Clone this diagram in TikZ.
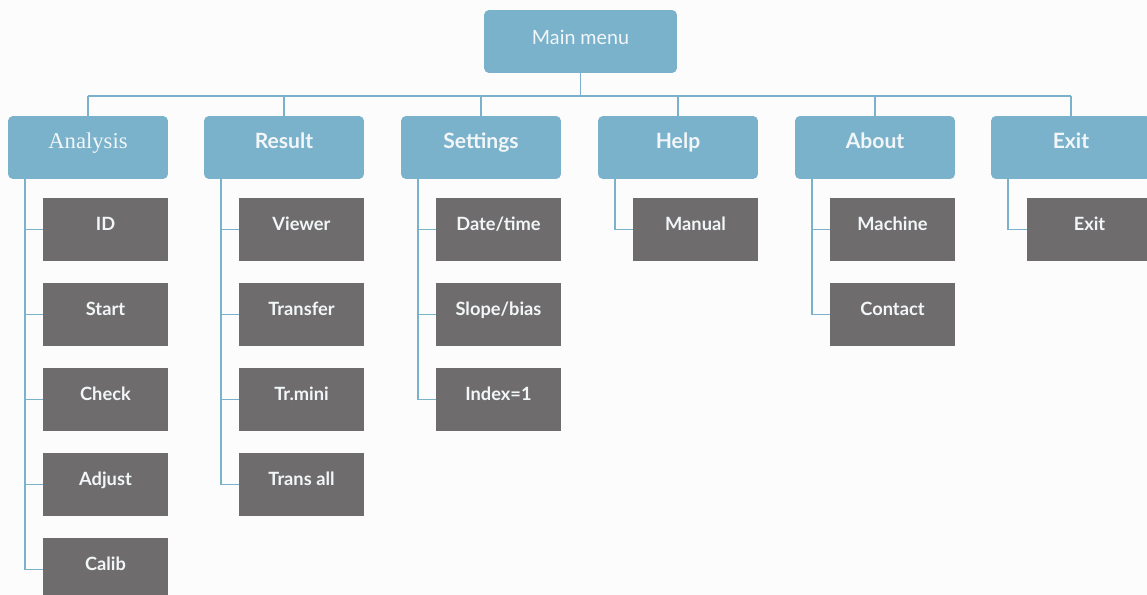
\documentclass[tikz,border=0pt]{standalone}
\usepackage{fontspec}
\setmainfont{Lato}
\newfontfamily\seriffont{Liberation Serif}
\usepackage{tikz}
\usetikzlibrary{calc}
\definecolor{menublue}{HTML}{7AB2CB}
\definecolor{itemgray}{HTML}{6E6C6C}
\definecolor{menutext}{HTML}{F2F6F8}
\definecolor{paper}{HTML}{FCFCFC}

\begin{document}
\begin{tikzpicture}[x=0.02cm,y=-0.02cm]
\tikzstyle{head}=[fill=menublue,rounded corners=0.1cm,outer sep=0pt,minimum width=3.2cm,minimum height=1.26cm,text=menutext,text height=0.75em,text depth=0.22cm,font=\fontsize{12}{14}\selectfont\bfseries]
\tikzstyle{item}=[fill=itemgray,outer sep=0pt,minimum width=2.5cm,minimum height=1.26cm,text=menutext,text height=0.75em,text depth=0.24cm,font=\fontsize{10.4}{12}\selectfont\bfseries]
\tikzstyle{link}=[draw=menublue,line width=1.1pt]

\fill [paper] (0,0) rectangle (1147,595);
\useasboundingbox (0,0) rectangle (1147,595);

\node (main) [head,minimum width=3.86cm,text depth=0.16cm,font=\fontsize{11.2}{13}\selectfont] at (580.5,41.5) {Main menu};

\node (ana) [head,font=\fontsize{12.9}{15}\selectfont\seriffont] at (88,147.5) {Analysis};
\node (res) [head] at (284,147.5) {Result};
\node (set) [head] at (481,147.5) {Settings};
\node (hlp) [head] at (678,147.5) {Help};
\node (abt) [head] at (875,147.5) {About};
\node (ext) [head] at (1071,147.5) {Exit};

% items under each menu
\node (id)  [item] at (105.5,229.5) {ID};
\node (sta) [item] at (105.5,314.5) {Start};
\node (chk) [item] at (105.5,399.5) {Check};
\node (adj) [item] at (105.5,484.5) {Adjust};
\node (cal) [item] at (105.5,569.5) {Calib};

\node (vie) [item] at (301.5,229.5) {Viewer};
\node (tra) [item] at (301.5,314.5) {Transfer};
\node (trm) [item] at (301.5,399.5) {Tr.mini};
\node (tal) [item] at (301.5,484.5) {Trans all};

\node (dat) [item] at (498.5,229.5) {Date/time};
\node (slo) [item] at (498.5,314.5) {Slope/bias};
\node (idx) [item] at (498.5,399.5) {Index=1};

\node (man) [item] at (695.5,229.5) {Manual};

\node (mac) [item] at (892.5,229.5) {Machine};
\node (con) [item] at (892.5,314.5) {Contact};

\node (exi) [item] at (1089.5,229.5) {Exit};

% top bus
\coordinate (bus) at (580.5,96);
\draw [link] (main.south) -- (bus);
\draw [link] (ana |- bus) -- (ext |- bus);
\foreach \m in {ana,res,set,hlp,abt,ext}
  \draw [link] (\m |- bus) -- (\m.north);

% menu to item links
\foreach \m/\i in {ana/id,ana/sta,ana/chk,ana/adj,ana/cal,res/vie,res/tra,res/trm,res/tal,set/dat,set/slo,set/idx,hlp/man,abt/mac,abt/con,ext/exi}
  \draw [link] ([xshift=0.34cm]\m.south west) |- (\i.west);

\end{tikzpicture}
\end{document}
